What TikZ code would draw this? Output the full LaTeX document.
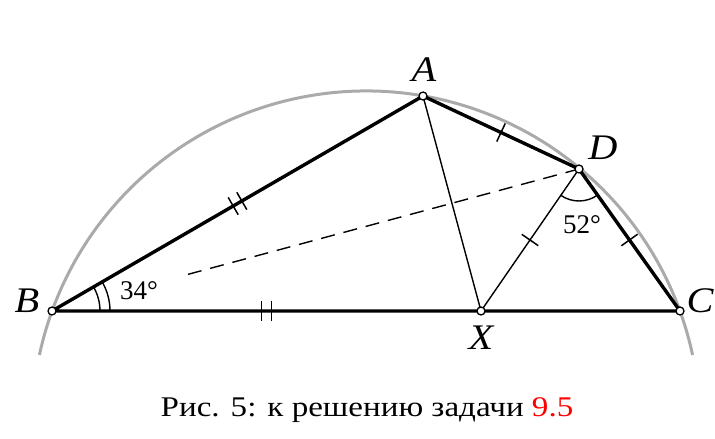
\documentclass[tikz,border=0pt]{standalone}
\usepackage{fontspec}
\setmainfont{Liberation Serif}
\newfontfamily\capfont[FakeStretch=1.16]{Liberation Serif}
\newfontfamily\lblfont[FakeStretch=1.12]{Liberation Serif}
\usetikzlibrary{calc}
\definecolor{arcgray}{RGB}{170,170,170}
\newcommand\singletick[2]{%
  \coordinate (tm) at ($(#1)!0.5!(#2)$);
  \draw[tickmark] ($(tm)!10pt!90:(#2)$) -- ($(tm)!10pt!-90:(#2)$);}
\newcommand\doubletick[2]{%
  \coordinate (tm) at ($(#1)!0.5!(#2)$);
  \coordinate (tma) at ($(tm)!5pt!(#2)$);
  \coordinate (tmb) at ($(tm)!-5pt!(#2)$);
  \draw[tickmark] ($(tma)!10pt!90:(#2)$) -- ($(tma)!10pt!-90:(#2)$);
  \draw[tickmark] ($(tmb)!10pt!90:(#2)$) -- ($(tmb)!10pt!-90:(#2)$);}
\begin{document}
\begin{tikzpicture}[x=1pt,y=1pt,
  thickline/.style={line width=3.4pt, line join=round},
  thinline/.style={line width=1.4pt},
  tickmark/.style={line width=1.5pt},
  ptmark/.style={circle, draw, fill=white, line width=1.3pt, inner sep=0pt, minimum size=8pt},
  lbl/.style={font=\lblfont\fontsize{36}{40}\selectfont\itshape},
  num/.style={font=\fontsize{27}{30}\selectfont},
  captext/.style={font=\capfont\fontsize{28.5}{31}\selectfont}]
\useasboundingbox (0,0) rectangle (715,439);
\coordinate (O) at (366,14);
\coordinate (B) at (52,128);
\coordinate (C) at (680,128);
\coordinate (A) at (423,343);
\coordinate (D) at (579,270);
\coordinate (X) at (481,128);
% circle arc
\draw[arcgray, line width=3pt] ($(O)+(12.1:334)$) arc[start angle=12.1, end angle=167.9, radius=334];
% thin lines
\draw[thinline] (A) -- (X);
\draw[thinline] (D) -- (X);
\draw[thinline, dash pattern=on 14pt off 9pt] (D) -- ($(D)!0.742!(B)$);
% thick triangle lines
\draw[thickline] (B) -- (A) -- (D) -- (C) -- cycle;
% ticks
\doubletick{B}{A}
\doubletick{B}{X}
\singletick{A}{D}
\singletick{D}{X}
\singletick{D}{C}
% angles
\draw[thinline] ($(B)+(0:48)$) arc[start angle=0, end angle=30.1, radius=48];
\draw[thinline] ($(B)+(0:58)$) arc[start angle=0, end angle=30.1, radius=58];
\draw[thinline] ($(D)+(235.4:32)$) arc[start angle=235.4, end angle=305.4, radius=32];
% points
\foreach \p in {A,B,C,D,X} \node[ptmark] (pt\p) at (\p) {};
% labels
\node[lbl] (lA) at (424,369) {A};
\node[lbl] (lB) at (27,138) {B};
\node[lbl] (lC) at (700,138) {C};
\node[lbl] (lD) at (603,291) {D};
\node[lbl] (lX) at (481,101) {X};
\node[num] (a34) at (139,148) {34°};
\node[num] (a52) at (582,214) {52°};
\node[captext] (cap) at (367,29) {Рис. 5: к решению задачи \textcolor{red}{9.5}};
\end{tikzpicture}
\end{document}
